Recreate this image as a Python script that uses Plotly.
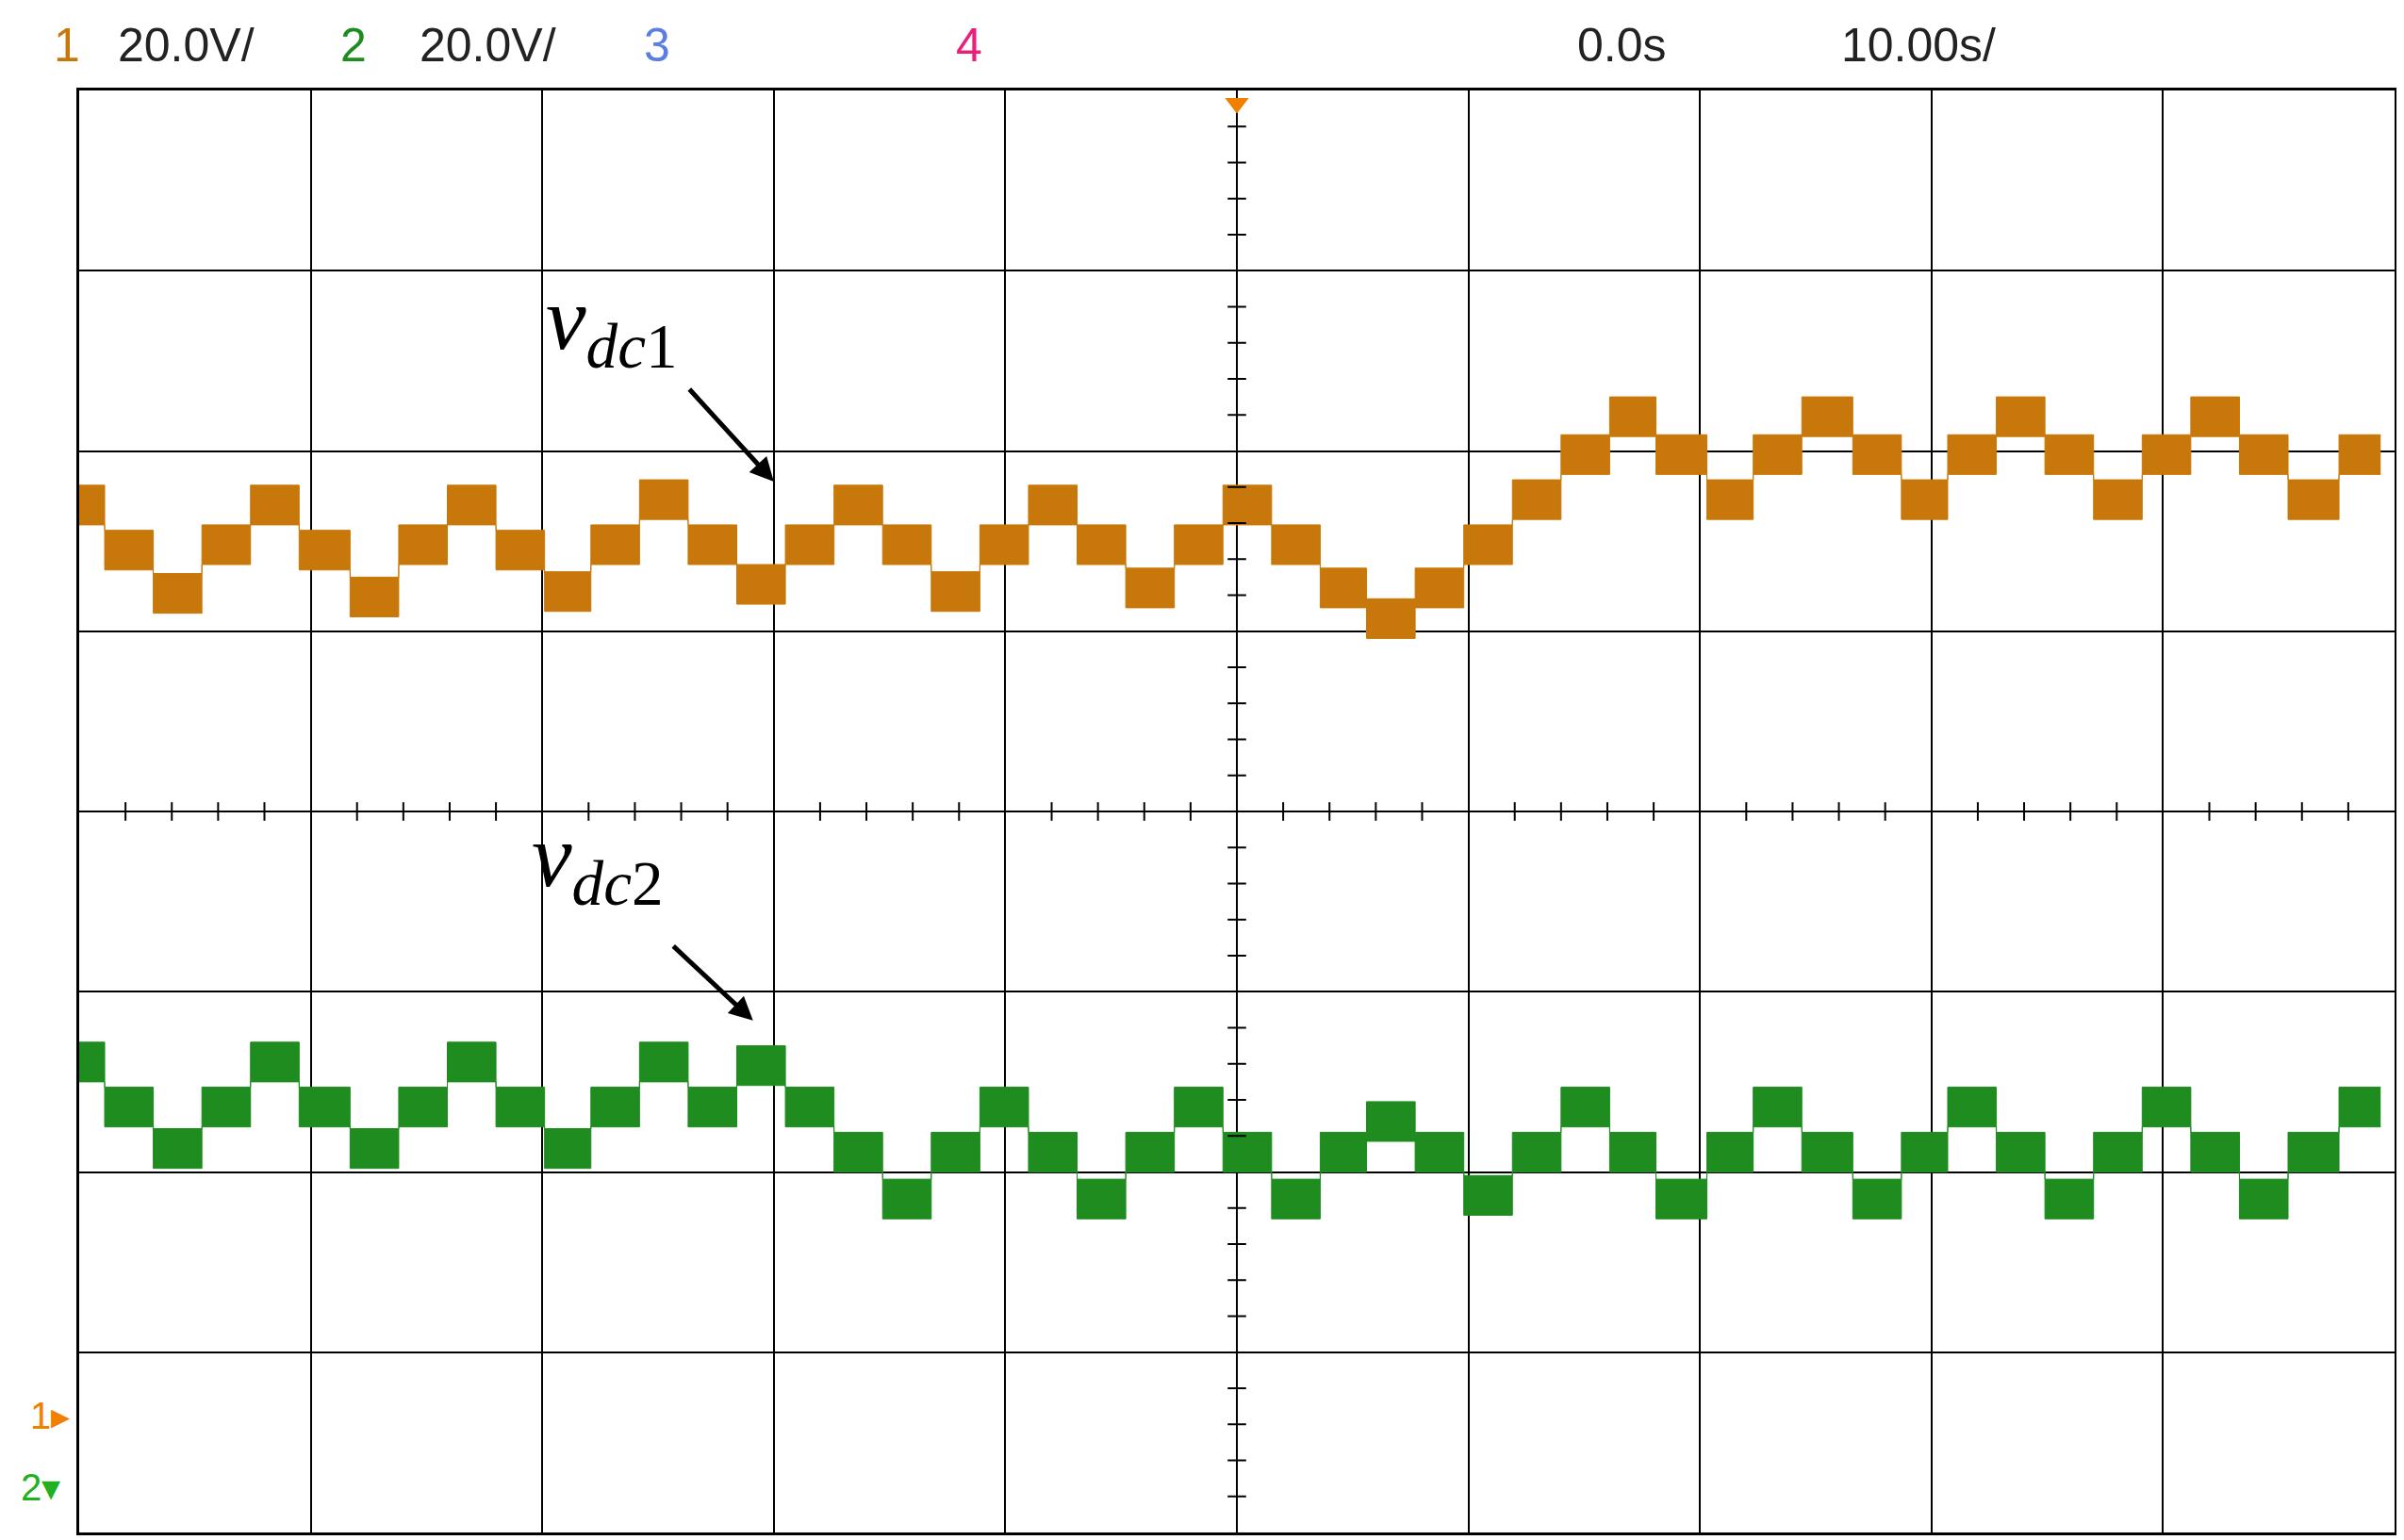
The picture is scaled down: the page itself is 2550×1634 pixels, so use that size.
import plotly.graph_objects as go

# segment edges (s) and step levels (divisions, 0 = bottom of screen)
edges_t = [-50.0, -48.9, -46.8, -44.7, -42.6, -40.5, -38.3, -36.2, -34.1, -32.0, -29.9, -27.9,
           -25.8, -23.7, -21.6, -19.5, -17.4, -15.3, -13.2, -11.1, -9.0, -6.9, -4.8, -2.7, -0.6,
           1.5, 3.6, 5.6, 7.7, 9.8, 11.9, 14.0, 16.1, 18.1, 20.3, 22.3, 24.4, 26.6, 28.7, 30.7,
           32.8, 34.9, 37.0, 39.1, 41.2, 43.3, 45.4, 47.6, 49.4]
vdc1 = [5.70, 5.45, 5.21, 5.48, 5.70, 5.45, 5.19, 5.48, 5.70, 5.45, 5.22, 5.48, 5.73, 5.48,
        5.26, 5.48, 5.70, 5.48, 5.22, 5.48, 5.70, 5.48, 5.24, 5.48, 5.70, 5.48, 5.24, 5.07,
        5.24, 5.48, 5.73, 5.98, 6.19, 5.98, 5.73, 5.98, 6.19, 5.98, 5.73, 5.98, 6.19, 5.98,
        5.73, 5.98, 6.19, 5.98, 5.73, 5.98]
vdc2 = [2.61, 2.36, 2.13, 2.36, 2.61, 2.36, 2.13, 2.36, 2.61, 2.36, 2.13, 2.36, 2.61, 2.36,
        2.59, 2.36, 2.11, 1.85, 2.11, 2.36, 2.11, 1.85, 2.11, 2.36, 2.11, 1.85, 2.11, 2.28,
        2.11, 1.87, 2.11, 2.36, 2.11, 1.85, 2.11, 2.36, 2.11, 1.85, 2.11, 2.36, 2.11, 1.85,
        2.11, 2.36, 2.11, 1.85, 2.11, 2.36]
band = 0.11
ORANGE = "#C8780A"
GREEN = "#1E8C1E"

fig = go.Figure()

def add_band(levels, color):
    xs = edges_t
    up = levels + [levels[-1]]
    lo = [v - band for v in up]
    hi = [v + band for v in up]
    fig.add_trace(go.Scatter(x=xs, y=lo, mode="lines", line=dict(shape="hv", color=color, width=1),
                             showlegend=False, hoverinfo="skip"))
    fig.add_trace(go.Scatter(x=xs, y=hi, mode="lines", line=dict(shape="hv", color=color, width=1),
                             fill="tonexty", fillcolor=color, showlegend=False, hoverinfo="skip"))

add_band(vdc1, ORANGE)
add_band(vdc2, GREEN)

# center-axis minor ticks
tx = [-50 + 2 * i for i in range(1, 50) if (i % 5) != 0]
fig.add_trace(go.Scatter(x=tx, y=[4] * len(tx), mode="markers", showlegend=False, hoverinfo="skip",
                         marker=dict(symbol="line-ns", size=14, line=dict(width=2, color="black"))))
ty = [0.2 * i for i in range(1, 40) if (i % 5) != 0]
fig.add_trace(go.Scatter(x=[0] * len(ty), y=ty, mode="markers", showlegend=False, hoverinfo="skip",
                         marker=dict(symbol="line-ew", size=14, line=dict(width=2, color="black"))))
# trigger marker
fig.add_trace(go.Scatter(x=[0], y=[7.93], mode="markers", showlegend=False, hoverinfo="skip",
                         marker=dict(symbol="triangle-down", size=22, color="#F08000")))

ax = dict(showgrid=True, gridcolor="black", gridwidth=2, zeroline=False, showticklabels=False,
          ticks="", showline=True, linecolor="black", linewidth=3, mirror=True)
fig.update_layout(
    width=2550, height=1634, plot_bgcolor="white", paper_bgcolor="white",
    margin=dict(l=76, r=18, t=88, b=16),
    xaxis=dict(range=[-50, 50], dtick=10, **ax),
    yaxis=dict(range=[0, 8], dtick=1, **ax),
)

hf = dict(family="Liberation Sans Narrow, Liberation Sans, Arial", size=50)
header = [(-0.012, "1", ORANGE), (0.016, "20.0V/", "#222"), (0.112, "2", GREEN), (0.146, "20.0V/", "#222"),
          (0.243, "3", "#5A7FE0"), (0.378, "4", "#E8207A"), (0.646, "0.0s", "#222"), (0.76, "10.00s/", "#222")]
for x, t, c in header:
    fig.add_annotation(xref="paper", yref="paper", x=x, y=1.012, xanchor="left", yanchor="bottom",
                       text=t, showarrow=False, font=dict(color=c, **hf))

lab = dict(family="Liberation Serif, Times New Roman", size=96, color="black")
fig.add_annotation(x=-20.0, y=5.83, ax=-23.7, ay=6.35, xref="x", yref="y", axref="x", ayref="y",
                   showarrow=True, arrowhead=2, arrowsize=1.0, arrowwidth=5, arrowcolor="black", text="")
fig.add_annotation(x=-20.9, y=2.84, ax=-24.4, ay=3.26, xref="x", yref="y", axref="x", ayref="y",
                   showarrow=True, arrowhead=2, arrowsize=1.0, arrowwidth=5, arrowcolor="black", text="")
fig.add_annotation(x=-27.0, y=6.7, xref="x", yref="y", showarrow=False, font=lab,
                   text="<i>v</i><sub><i>dc</i>1</sub>")
fig.add_annotation(x=-27.6, y=3.72, xref="x", yref="y", showarrow=False, font=lab,
                   text="<i>v</i><sub><i>dc</i>2</sub>")

# ground markers
fig.add_annotation(xref="paper", yref="y", x=-0.022, y=0.65, xanchor="left", text="1▸", showarrow=False,
                   font=dict(color="#F08000", size=40, family="Liberation Sans"))
fig.add_annotation(xref="paper", yref="y", x=-0.026, y=0.25, xanchor="left", text="2▾", showarrow=False,
                   font=dict(color="#20B020", size=40, family="Liberation Sans"))

fig.write_html("out.html")
